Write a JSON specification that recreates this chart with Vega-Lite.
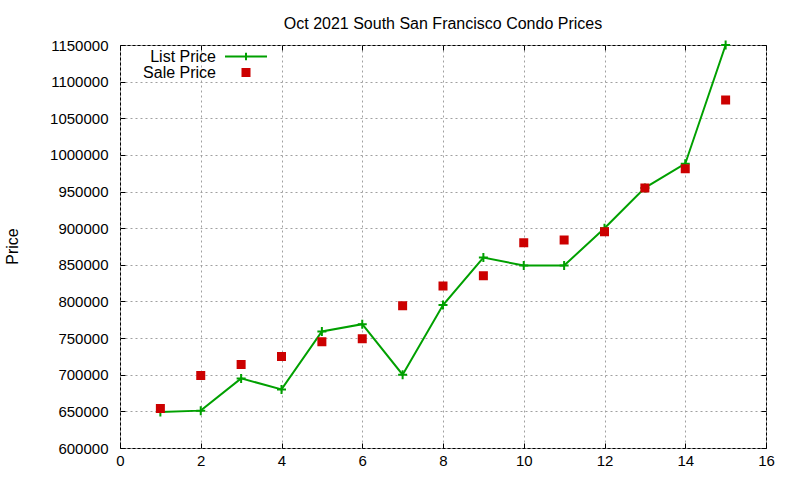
{
  "$schema": "https://vega.github.io/schema/vega-lite/v6.json",
  "width": 646,
  "height": 403,
  "autosize": {"type": "none"},
  "padding": {"left": 120, "top": 45, "right": 34, "bottom": 32},
  "background": "white",
  "title": {"text": "Oct 2021 South San Francisco Condo Prices", "fontSize": 16, "fontWeight": "normal", "font": "Liberation Sans", "offset": 5, "color": "#000"},
  "config": {
    "view": {"stroke": "#000", "strokeWidth": 1},
    "font": "Liberation Sans",
    "axis": {"labelFont": "Liberation Sans", "labelFontSize": 15, "labelColor": "#000", "domain": false, "tickColor": "#000", "tickSize": -5, "tickWidth": 1, "gridColor": "#a0a0a0", "gridDash": [2, 3], "gridOpacity": 1, "gridWidth": 1, "titleFont": "Liberation Sans", "titleFontSize": 16, "titleFontWeight": "normal", "titleColor": "#000", "labelFlush": false, "labelOverlap": false}
  },
  "data": {"values": [
    {"x": 1, "series": "List Price", "price": 649000},
    {"x": 2, "series": "List Price", "price": 651000},
    {"x": 3, "series": "List Price", "price": 695000},
    {"x": 4, "series": "List Price", "price": 680000},
    {"x": 5, "series": "List Price", "price": 759000},
    {"x": 6, "series": "List Price", "price": 769000},
    {"x": 7, "series": "List Price", "price": 700000},
    {"x": 8, "series": "List Price", "price": 795000},
    {"x": 9, "series": "List Price", "price": 860000},
    {"x": 10, "series": "List Price", "price": 849000},
    {"x": 11, "series": "List Price", "price": 849000},
    {"x": 12, "series": "List Price", "price": 900000},
    {"x": 13, "series": "List Price", "price": 955000},
    {"x": 14, "series": "List Price", "price": 988000},
    {"x": 15, "series": "List Price", "price": 1150000},
    {"x": 1, "series": "Sale Price", "price": 654000},
    {"x": 2, "series": "Sale Price", "price": 699000},
    {"x": 3, "series": "Sale Price", "price": 714000},
    {"x": 4, "series": "Sale Price", "price": 725000},
    {"x": 5, "series": "Sale Price", "price": 745000},
    {"x": 6, "series": "Sale Price", "price": 749000},
    {"x": 7, "series": "Sale Price", "price": 794000},
    {"x": 8, "series": "Sale Price", "price": 821000},
    {"x": 9, "series": "Sale Price", "price": 835000},
    {"x": 10, "series": "Sale Price", "price": 880000},
    {"x": 11, "series": "Sale Price", "price": 884000},
    {"x": 12, "series": "Sale Price", "price": 895000},
    {"x": 13, "series": "Sale Price", "price": 955000},
    {"x": 14, "series": "Sale Price", "price": 981000},
    {"x": 15, "series": "Sale Price", "price": 1075000}
  ]},
  "layer": [
    {
      "transform": [{"filter": "datum.series === 'List Price'"}],
      "mark": {"type": "line", "color": "#00a000", "strokeWidth": 2},
      "encoding": {
        "x": {"field": "x", "type": "quantitative", "scale": {"domain": [0, 16], "nice": false, "zero": false},
              "axis": {"values": [0, 2, 4, 6, 8, 10, 12, 14, 16], "format": "d", "labelPadding": 10, "title": null}},
        "y": {"field": "price", "type": "quantitative", "scale": {"domain": [600000, 1150000], "nice": false, "zero": false},
              "axis": {"values": [600000, 650000, 700000, 750000, 800000, 850000, 900000, 950000, 1000000, 1050000, 1100000, 1150000], "format": "d", "labelPadding": 17, "title": "Price", "titleX": -108, "titleY": 201, "titleAngle": -90, "titleBaseline": "middle", "titleAlign": "center"}}
      }
    },
    {
      "transform": [{"filter": "datum.series === 'List Price'"}],
      "mark": {"type": "point", "shape": "M-1,0H1M0,-1V1", "size": 81, "filled": false, "stroke": "#00a000", "strokeWidth": 2, "opacity": 1},
      "encoding": {
        "x": {"field": "x", "type": "quantitative", "axis": null},
        "y": {"field": "price", "type": "quantitative", "axis": null}
      }
    },
    {
      "transform": [{"filter": "datum.series === 'Sale Price'"}],
      "mark": {"type": "point", "filled": true, "size": 64, "strokeWidth": 2, "opacity": 1},
      "encoding": {
        "x": {"field": "x", "type": "quantitative", "axis": null},
        "y": {"field": "price", "type": "quantitative", "axis": null},
        "color": {"field": "series", "type": "nominal", "scale": {"domain": ["List Price", "Sale Price"], "range": ["#00a000", "#cc0000"]},
                  "legend": {"orient": "none", "legendX": 118, "legendY": 3.5, "title": null, "labelAlign": "right", "labelOffset": -38, "labelFontSize": 16, "labelFont": "Liberation Sans", "labelColor": "#000", "symbolSize": 64, "symbolStrokeWidth": 2, "rowPadding": 0, "padding": 0}},
        "stroke": {"field": "series", "type": "nominal", "scale": {"domain": ["List Price", "Sale Price"], "range": ["#00a000", "#cc0000"]},
                  "legend": {"orient": "none", "legendX": 118, "legendY": 3.5, "title": null, "labelAlign": "right", "labelOffset": -38, "labelFontSize": 16, "labelFont": "Liberation Sans", "labelColor": "#000", "symbolSize": 64, "symbolStrokeWidth": 2, "rowPadding": 0, "padding": 0}},
        "shape": {"field": "series", "type": "nominal", "scale": {"domain": ["List Price", "Sale Price"], "range": ["M-5.25,0H5.25M0,-0.95V0.95", "M-0.875,-0.875H0.875V0.875H-0.875Z"]},
                  "legend": {"orient": "none", "legendX": 118, "legendY": 3.5, "title": null, "labelAlign": "right", "labelOffset": -38, "labelFontSize": 16, "labelFont": "Liberation Sans", "labelColor": "#000", "symbolSize": 64, "symbolStrokeWidth": 2, "rowPadding": 0, "padding": 0}}
      }
    },
    {
      "mark": {"type": "point", "opacity": 0},
      "encoding": {
        "x": {"field": "x", "type": "quantitative", "axis": {"orient": "top", "values": [0, 2, 4, 6, 8, 10, 12, 14, 16], "labels": false, "grid": false, "title": null}},
        "y": {"field": "price", "type": "quantitative", "axis": {"orient": "right", "values": [600000, 650000, 700000, 750000, 800000, 850000, 900000, 950000, 1000000, 1050000, 1100000, 1150000], "labels": false, "grid": false, "title": null}}
      }
    }
  ],
  "resolve": {"axis": {"x": "independent", "y": "independent"}}
}
